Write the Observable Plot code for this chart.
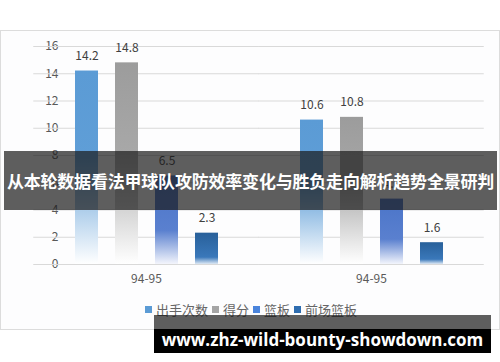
<!DOCTYPE html>
<html>
<head>
<meta charset="utf-8">
<script src="https://cdn.jsdelivr.net/npm/d3@7"></script>
<script src="https://cdn.jsdelivr.net/npm/@observablehq/plot@0.6"></script>
<style>
  html, body { margin: 0; padding: 0; background: #fff; }
  #wrap { position: relative; width: 500px; height: 362px; overflow: hidden; background: #fff; font-family: "Noto Sans CJK SC", "Noto Sans", sans-serif; }
  #box { position: absolute; left: 0; top: 30px; width: 498px; height: 298px; border: 1px solid #dcdcdc; background: #fdfdfe; }
  #chart { position: absolute; left: 0; top: 0; }
  #legend { position: absolute; left: 145px; top: 300px; display: flex; align-items: center; font-size: 13px; color: #666; white-space: nowrap; }
  #legend .item { display: flex; align-items: center; margin-right: 4px; }
  #legend .sw { width: 7px; height: 7px; margin-right: 4px; }
  #banner { position: absolute; left: 4px; top: 151px; width: 493px; height: 59px; background: rgba(25,25,25,0.7); color: #fff; font-weight: 700; font-size: 17px; line-height: 59px; text-align: center; white-space: nowrap; letter-spacing: -0.2px; }
  #wmTop { position: absolute; left: 154px; top: 315px; width: 337px; height: 14px; background: rgba(25,25,25,0.7); }
  #wm { position: absolute; left: 154px; top: 329px; width: 337px; height: 24px; background: #000; color: #fff; font-family: "Open Sans", "Liberation Sans", sans-serif; font-weight: 700; font-size: 17px; line-height: 22px; text-align: center; white-space: nowrap; }
</style>
</head>
<body>
<div id="wrap">
  <div id="box"></div>
  <div id="chart"></div>
  <div id="legend"></div>
  <div id="banner"></div>
  <div id="wmTop"></div>
  <div id="wm"></div>
</div>
<script>
// ---- data ----
const groups = ["94-95", "94-95"];
const series = ["出手次数", "得分", "篮板", "前场篮板"];
const values0 = [14.2, 14.8, 6.5, 2.3];
const values1 = [10.6, 10.8, 4.8, 1.6];
const yTicks = [0, 2, 4, 6, 8, 10, 12, 14, 16];
const legendColors = ["#5B9BD5", "#A5A5A5", "#4A84DC", "#2E6DB0"];
const bannerText = "从本轮数据看法甲球队攻防效率变化与胜负走向解析趋势全景研判";
const watermarkText = "www.zhz-wild-bounty-showdown.com";

const rows = [];
[values0, values1].forEach((vals, gi) => {
  vals.forEach((v, si) => rows.push({ g: gi, series: series[si], value: v }));
});

const gradIds = ["gradA", "gradB", "gradC", "gradD"];
const gradStops = [
  [[0, "#5B9BD5"], [0.45, "#5F9ED7"], [1, "#ffffff"]],
  [[0, "#9C9C9C"], [0.45, "#A8A8A8"], [1, "#ffffff"]],
  [[0, "#4A74C8"], [0.62, "#5A80CF"], [1, "#f3f5fc"]],
  [[0, "#28609A"], [0.78, "#3A78BA"], [1, "#dde8f4"]]
];

const chart = Plot.plot({
  width: 500,
  height: 362,
  marginTop: 46,
  marginBottom: 98,
  marginLeft: 33,
  marginRight: 16,
  style: { background: "transparent", color: "#595959", fontSize: "12px", fontFamily: "\"Noto Sans CJK SC\", \"Noto Sans\", sans-serif" },
  facet: { data: rows, x: "g" },
  fx: { domain: [0, 1], paddingInner: 0.29, paddingOuter: 0.145, axis: "bottom", tickSize: 0, tickPadding: 10, tickFormat: i => groups[i], label: null },
  x: { domain: series, paddingInner: 0.425, paddingOuter: 0.2125, axis: null },
  y: { domain: [0, 16], ticks: yTicks, tickSize: 0, tickPadding: 8, label: null },
  color: { domain: series, range: gradIds.map(id => `url(#${id})`) },
  marks: [
    Plot.ruleY(yTicks, { stroke: "#d9d9d9", strokeWidth: 1, insetLeft: -32.75, insetRight: -32.75 }),
    Plot.barY(rows, { x: "series", y: "value", fill: "series" }),
    Plot.text(rows, { x: "series", y: "value", text: d => d.value.toFixed(1), dy: -15, fill: "#404040", fontSize: 12 })
  ]
});

// gradient definitions used by the bar fills
const defs = d3.select(chart).insert("defs", ":first-child");
gradIds.forEach((id, i) => {
  const lg = defs.append("linearGradient").attr("id", id)
    .attr("x1", 0).attr("y1", 0).attr("x2", 0).attr("y2", 1);
  gradStops[i].forEach(([o, c]) => lg.append("stop").attr("offset", o).attr("stop-color", c));
});

document.getElementById("chart").appendChild(chart);

// legend
const legend = document.getElementById("legend");
series.forEach((s, i) => {
  const item = document.createElement("div");
  item.className = "item";
  const sw = document.createElement("span");
  sw.className = "sw";
  sw.style.background = legendColors[i];
  const t = document.createElement("span");
  t.textContent = s;
  item.appendChild(sw);
  item.appendChild(t);
  legend.appendChild(item);
});

document.getElementById("banner").textContent = bannerText;
document.getElementById("wm").textContent = watermarkText;
</script>
</body>
</html>
